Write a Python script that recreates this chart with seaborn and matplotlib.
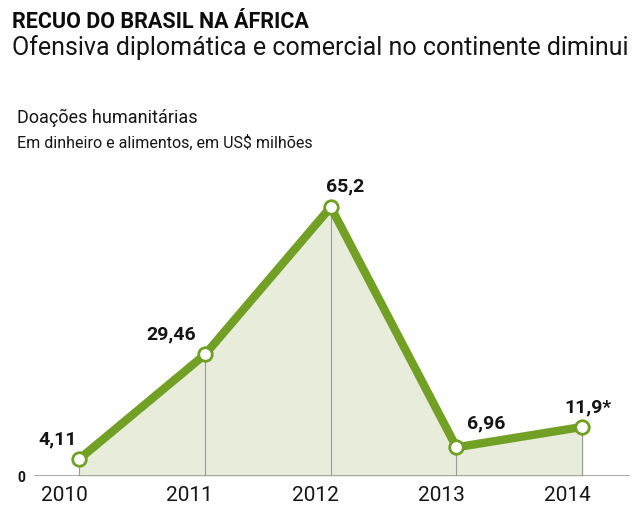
import numpy as np
import matplotlib
matplotlib.use('Agg')
import matplotlib.pyplot as plt
import seaborn as sns

anos = ['2010', '2011', '2012', '2013', '2014']
valores = [4.11, 29.46, 65.2, 6.96, 11.9]
rotulos = ['4,11', '29,46', '65,2', '6,96', '11,9*']

verde = '#72a024'
preenchimento = '#e8ecdb'
cinza = '#9a9a9a'
texto = '#151515'

sns.set_style('white')
plt.rcParams['font.family'] = ['Roboto', 'DejaVu Sans']

fig = plt.figure(figsize=(6.35, 5.08), dpi=100)
ax = fig.add_axes([34 / 635, 32 / 508, 596 / 635, 297 / 508])

pos = np.arange(len(anos))

# área sob a linha e linhas verticais até o zero
ax.fill_between(pos, valores, 0, color=preenchimento, zorder=1)
ax.vlines(pos, 0, valores, color=cinza, linewidth=0.8, zorder=2)
ax.axhline(0, color=cinza, linewidth=1.2, zorder=2)

sns.lineplot(x=pos, y=valores, ax=ax, color=verde, linewidth=6,
             zorder=3, solid_joinstyle='miter')
ax.scatter(pos, valores, s=95, facecolor='white', edgecolor=verde,
           linewidth=2, zorder=4)

# rótulos de valor
desloc = [(-22, 11), (-34, 11), (14, 12), (30, 15), (6, 10)]
for p, v, r, (dx, dy) in zip(pos, valores, rotulos, desloc):
    ax.annotate(r, (p, v), xytext=(dx, dy), textcoords='offset pixels',
                ha='center', va='bottom', fontsize=14, fontweight='bold',
                color=texto)

ax.set_xlim(-0.36, 4.38)
ax.set_ylim(0, 72)
ax.set_xticks(pos - 0.12)
ax.set_xticklabels(anos, fontsize=15, color=texto)
ax.set_yticks([0])
ax.set_yticklabels(['0'], fontsize=10, fontweight='bold', color=texto)
ax.tick_params(axis='x', length=0, pad=7)
ax.tick_params(axis='y', length=0, pad=6)
sns.despine(ax=ax, left=True, bottom=True)

fig.text(12 / 635, 1 - 22 / 508, 'RECUO DO BRASIL NA ÁFRICA', fontsize=15.5,
         fontweight='bold', va='center', ha='left', color='#0d0d0d')
fig.text(12 / 635, 1 - 48 / 508,
         'Ofensiva diplomática e comercial no continente diminui',
         fontsize=18, va='center', ha='left', color=texto)
fig.text(17 / 635, 1 - 118 / 508, 'Doações humanitárias', fontsize=13,
         va='center', ha='left', color=texto)
fig.text(17 / 635, 1 - 143 / 508, 'Em dinheiro e alimentos, em US$ milhões',
         fontsize=11.5, va='center', ha='left', color=texto)

fig.savefig('out.png', dpi=100, facecolor='white')
